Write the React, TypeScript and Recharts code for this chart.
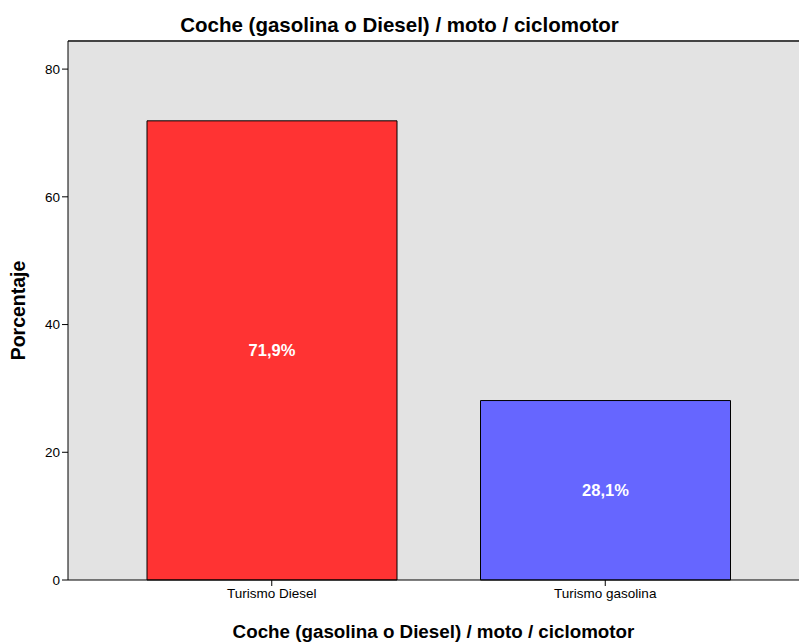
import { BarChart, Bar, XAxis, YAxis, CartesianGrid, Cell, LabelList, Label, ReferenceLine } from 'recharts';

const categories = ['Turismo Diesel', 'Turismo gasolina'];
const percentages = [71.9, 28.1];
const barColors = ['#ff3333', '#6666ff'];
const yTicks = [0, 20, 40, 60, 80];

const data = categories.map((name, i) => ({ name, value: percentages[i] }));

const FONT = '"Liberation Sans", Arial, sans-serif';

export default function App() {
  return (
    <div style={{ position: 'absolute', left: 0, top: 0, width: 799, height: 642, background: '#fff', fontFamily: FONT }}>
      <div
        style={{
          position: 'absolute',
          top: 13,
          left: 0,
          width: 799,
          lineHeight: '24px',
          textAlign: 'center',
          fontSize: 20.5,
          fontWeight: 'bold',
          color: '#000',
        }}
      >
        Coche (gasolina o Diesel) / moto / ciclomotor
      </div>
      <BarChart
        width={799}
        height={642}
        data={data}
        margin={{ top: 41, right: 0, bottom: 0, left: 30 }}
        style={{ fontFamily: FONT }}
      >
        <CartesianGrid fill="#e3e3e3" horizontal={false} vertical={false} />
        <ReferenceLine y={84.4} stroke="#444" strokeWidth={2} ifOverflow="extendDomain" />
        <XAxis
          dataKey="name"
          height={62}
          padding={{ left: 37, right: 27 }}
          stroke="#000"
          tickSize={6}
          tick={{ fill: '#000', fontSize: 13.5 }}
        >
          <Label
            value="Coche (gasolina o Diesel) / moto / ciclomotor"
            position="insideBottom"
            offset={4}
            style={{ fontSize: 18.8, fontWeight: 'bold', fill: '#000' }}
          />
        </XAxis>
        <YAxis
          width={38}
          domain={[0, 84.4]}
          ticks={yTicks}
          stroke="#000"
          tickSize={6}
          tick={{ fill: '#000', fontSize: 13.5 }}
        >
          <Label
            value="Porcentaje"
            angle={-90}
            position="insideLeft"
            offset={-12}
            style={{ fontSize: 19.5, fontWeight: 'bold', fill: '#000', textAnchor: 'middle' }}
          />
        </YAxis>
        <Bar dataKey="value" barSize={250} stroke="#000" strokeWidth={1} isAnimationActive={false}>
          {data.map((d, i) => (
            <Cell key={d.name} fill={barColors[i]} />
          ))}
          <LabelList
            dataKey="value"
            position="center"
            formatter={(v: number) => `${v.toFixed(1).replace('.', ',')}%`}
            style={{ fill: '#fff', fontSize: 16.5, fontWeight: 'bold' }}
          />
        </Bar>
      </BarChart>
    </div>
  );
}
